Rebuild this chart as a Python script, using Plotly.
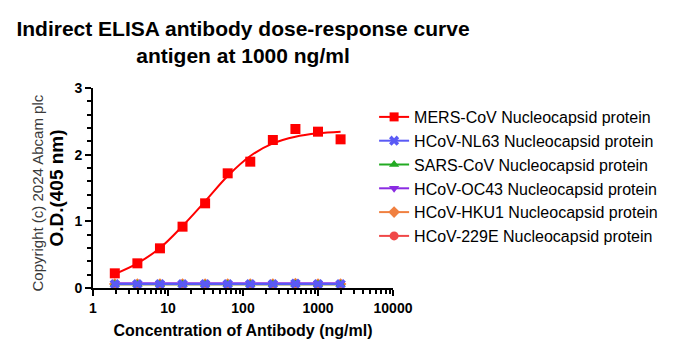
import plotly.graph_objects as go

# ---- data ----
conc = [1.953125, 3.90625, 7.8125, 15.625, 31.25, 62.5, 125, 250, 500, 1000, 2000]
mers = [0.22, 0.37, 0.595, 0.92, 1.27, 1.72, 1.895, 2.22, 2.385, 2.345, 2.23]
nl63 = [0.06, 0.06, 0.06, 0.06, 0.06, 0.06, 0.06, 0.06, 0.065, 0.06, 0.06]
sars = [0.055, 0.055, 0.055, 0.055, 0.055, 0.055, 0.055, 0.055, 0.06, 0.055, 0.055]
oc43 = [0.07, 0.07, 0.07, 0.07, 0.07, 0.07, 0.07, 0.07, 0.075, 0.07, 0.07]
hku1 = [0.06, 0.06, 0.06, 0.06, 0.06, 0.06, 0.06, 0.06, 0.065, 0.06, 0.06]
e229 = [0.055, 0.055, 0.055, 0.055, 0.055, 0.055, 0.055, 0.055, 0.06, 0.055, 0.055]

# fitted curve for MERS-CoV
fit_x = [1.953125, 3.90625, 7.8125, 15.625, 31.25, 62.5, 125, 250, 500, 1000, 2000]
fit_y = [0.21, 0.37, 0.60, 0.93, 1.30, 1.68, 1.98, 2.17, 2.27, 2.32, 2.345]

names = ["MERS-CoV Nucleocapsid protein", "HCoV-NL63 Nucleocapsid protein",
         "SARS-CoV Nucleocapsid protein", "HCoV-OC43 Nucleocapsid protein",
         "HCoV-HKU1 Nucleocapsid protein", "HCoV-229E Nucleocapsid protein"]

x_ticks = [1, 10, 100, 1000, 10000]
x_ticklabels = ["1", "10", "100", "1000", "10000"]
y_ticks = [0, 1, 2, 3]

FONT = "Liberation Sans, Arial, sans-serif"

fig = go.Figure()

# flat series (drawn under, legend order by rank)
flat = [
    (e229, names[5], "#f04848", "circle", 6),
    (hku1, names[4], "#f08040", "diamond", 5),
    (oc43, names[3], "#8a2be2", "triangle-down", 4),
    (sars, names[2], "#22aa22", "triangle-up", 3),
    (nl63, names[1], "#5a5af5", "x", 2),
]
for ys, nm, col, sym, rank in flat:
    fig.add_trace(go.Scatter(
        x=conc, y=ys, name=nm, mode="lines+markers",
        line=dict(color=col, width=2),
        marker=dict(symbol=sym, size=9, color=col),
        legendrank=rank,
    ))

# MERS fit curve
fig.add_trace(go.Scatter(
    x=fit_x, y=fit_y, mode="lines", line=dict(color="#ff0000", width=2, shape="spline"),
    showlegend=False, hoverinfo="skip",
))
# MERS points
fig.add_trace(go.Scatter(
    x=conc, y=mers, mode="markers", marker=dict(symbol="square", size=10, color="#ff0000"),
    showlegend=False, name=names[0],
))
# legend entry for MERS (line + marker)
fig.add_trace(go.Scatter(
    x=[None], y=[None], mode="lines+markers", name=names[0],
    line=dict(color="#ff0000", width=2), marker=dict(symbol="square", size=9, color="#ff0000"),
    legendrank=1,
))

fig.update_layout(
    width=678, height=352,
    margin=dict(l=93, r=285, t=88, b=64),
    paper_bgcolor="white", plot_bgcolor="white",
    font=dict(family=FONT, color="black"),
    title=dict(
        text="Indirect ELISA antibody dose-response curve<br>antigen at 1000 ng/ml",
        font=dict(family=FONT, size=21, color="black", weight="bold"),
        x=0.5, xref="paper", xanchor="center",
        y=1 - 36 / 352, yref="container", yanchor="top",
    ),
    legend=dict(
        x=0.937, y=0.94, xanchor="left", yanchor="top",
        font=dict(family=FONT, size=16, color="black"),
        bgcolor="rgba(0,0,0,0)",
    ),
    showlegend=True,
)

fig.update_xaxes(
    type="log", range=[0, 4],
    tickvals=x_ticks, ticktext=x_ticklabels,
    ticks="outside", ticklen=6, tickwidth=2, tickcolor="black",
    minor=dict(ticks="outside", ticklen=4, tickwidth=1.5, tickcolor="black", dtick="D1", showgrid=False),
    showline=True, linewidth=2, linecolor="black",
    showgrid=False, zeroline=False,
    tickfont=dict(family=FONT, size=14, color="black", weight="bold"),
    title=dict(text="Concentration of Antibody (ng/ml)", standoff=10,
               font=dict(family=FONT, size=16, color="black", weight="bold")),
)
fig.update_yaxes(
    range=[0, 3], tickvals=y_ticks,
    ticks="outside", ticklen=6, tickwidth=2, tickcolor="black",
    minor=dict(ticks="outside", ticklen=4, tickwidth=1.5, tickcolor="black", dtick=0.2, showgrid=False),
    showline=True, linewidth=2, linecolor="black",
    showgrid=False, zeroline=False,
    tickfont=dict(family=FONT, size=14, color="black", weight="bold"),
    title=dict(text="O.D.(405 nm)", standoff=6,
               font=dict(family=FONT, size=19, color="black", weight="bold")),
)

fig.add_annotation(
    text="Copyright (c) 2024 Abcam plc", textangle=-90,
    x=(37 - 93) / 300, y=(288 - 193.5) / 200, xref="paper", yref="paper",
    xanchor="center", yanchor="middle", showarrow=False,
    font=dict(family=FONT, size=15, color="#3a3a3a"),
)

fig.write_html("out.html")
